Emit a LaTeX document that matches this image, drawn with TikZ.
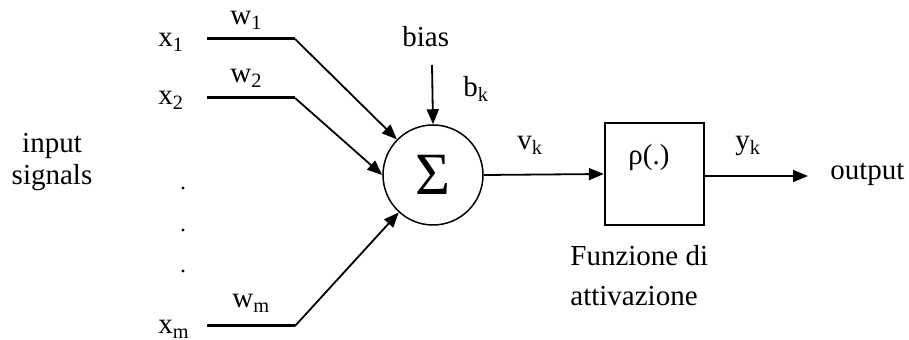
\documentclass[tikz,border=0pt]{standalone}
\usepackage{fontspec}
\setmainfont{Liberation Serif}
\usetikzlibrary{arrows.meta,positioning}
\newcommand{\sub}[1]{\textsubscript{#1}}

\begin{document}
\begin{tikzpicture}[x=0.5pt,y=-0.5pt,>={Triangle[length=7.5pt,width=6pt]},
    font=\fontsize{14.5}{16}\selectfont,
    lbl/.style={inner sep=0pt,anchor=base west},
    wire/.style={line width=1.5pt},
    arr/.style={->,line width=0.9pt}]
  \useasboundingbox (0,0) rectangle (909,340);
  % summing junction and activation block
  \node[draw,circle,line width=0.75pt,minimum size=50pt,inner sep=0pt] (sum) at (433,175)
    {\fontsize{30}{30}\selectfont\raisebox{-2pt}{Σ}};
  \node[draw,line width=1.2pt,minimum width=49.5pt,minimum height=51pt] (act) at (654.5,174) {};
  \node[lbl] (rho) at (628,165) {ρ(.)};
  % inputs
  \node[lbl] (x1) at (158,47) {x\sub{1}};
  \node[lbl] (x2) at (158,105) {x\sub{2}};
  \node[lbl] (xm) at (158,334) {x\sub{m}};
  \node[lbl] (w1) at (230,25) {w\sub{1}};
  \node[lbl] (w2) at (230,83) {w\sub{2}};
  \node[lbl] (wm) at (232,308) {w\sub{m}};
  \coordinate (x1s) at (207,39);  \coordinate (x1e) at (295,39);
  \coordinate (x2s) at (207,98);  \coordinate (x2e) at (295,98);
  \coordinate (xms) at (207,326); \coordinate (xme) at (295,326);
  \foreach \y in {188,230,271}
    \fill (183,\y) circle (0.8pt);
  \draw[wire] (x1s) -- (x1e);
  \draw[wire] (x2s) -- (x2e);
  \draw[wire] (xms) -- (xme);
  \draw[arr] (x1e) -- (sum);
  \draw[arr] (x2e) -- (sum.west);
  \draw[arr] (xme) -- (sum);
  \node[inner sep=0pt,align=center] (insig) at (52,162) {input\\signals};
  % bias
  \node[lbl] (bias) at (402,47) {bias};
  \coordinate (bs) at (432,65);
  \draw[arr] (bs) -- (sum.north);
  \node[lbl] (bk) at (463,97) {b\sub{k}};
  % output path
  \node[lbl] (vk) at (517,150) {v\sub{k}};
  \draw[arr] (sum.east) -- (act.west);
  \node[lbl] (yk) at (735,150) {y\sub{k}};
  \coordinate (oe) at (808,176);
  \draw[arr] (act.east |- oe) -- (oe);
  \node[lbl] (out) at (830,180) {output};
  \node[inner sep=0pt,anchor=west,align=left] (fun) at (570,276)
    {Funzione di\\[4pt]attivazione};
\end{tikzpicture}
\end{document}
